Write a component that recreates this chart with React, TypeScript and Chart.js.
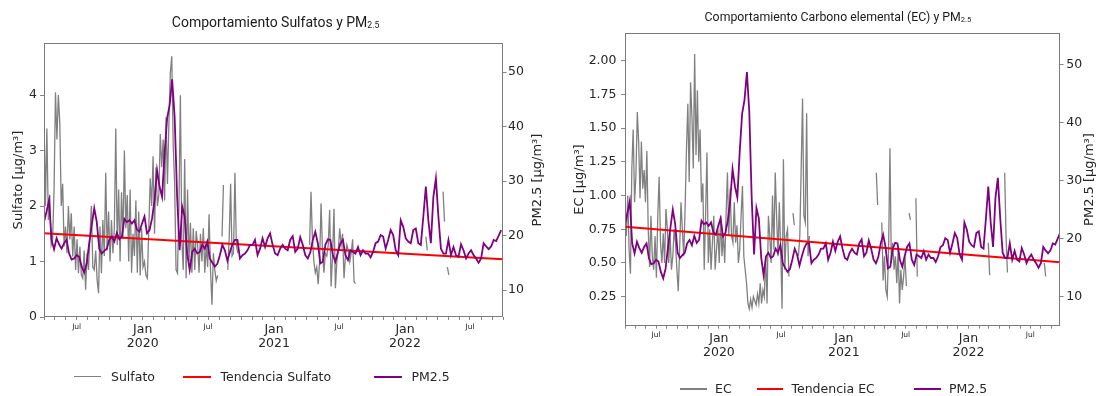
import React, { useEffect, useRef } from 'react';
import { Chart, registerables } from 'chart.js';

Chart.register(...registerables);

const _ = null;

// ---------- time axis (days since 2019-04-01) ----------
const START_UTC = Date.UTC(2019, 3, 1);
const MS_PER_DAY = 86400000;
const PM25_STEP_DAYS = 7;
const GRAY_STEP_DAYS = 4;
const LEFT_X_MAX_DAY = 1279;
const RIGHT_X_MAX_DAY = 1274;
const TICK_YEARS = [2019, 2020, 2021, 2022];
const LABELED_MONTHS = { 0: 'Jan', 6: 'Jul' };

// ---------- series values ----------
// PM2.5 weekly (µg/m³), shared by both panels
const PM25 = [
  22.5, 24.4, 26.5, 19.2, 17.5, 19.5, 18.4, 17.6, 18.6, 19.2,
  16.7, 15.6, 15.8, 16.4, 16.1, 14.3, 13.2, 14.9, 18.6, 21.9,
  25.0, 22.5, 17.6, 16.7, 17.2, 17.6, 19.2, 19.8, 18.9, 20.5,
  19.3, 19.8, 23.1, 22.5, 22.8, 22.2, 22.8, 21.1, 20.7, 22.2,
  23.5, 20.4, 21.0, 23.1, 26.5, 32.0, 29.0, 27.1, 35.0, 41.5,
  43.9, 48.7, 41.8, 27.1, 17.3, 25.3, 23.5, 16.7, 13.7, 17.0,
  17.6, 16.7, 17.0, 18.3, 17.6, 18.9, 15.8, 15.0, 14.3, 14.8,
  16.4, 18.3, 17.3, 15.4, 17.0, 18.4, 19.2, 19.2, 15.8, 16.4,
  16.7, 17.3, 18.3, 18.3, 19.2, 16.4, 17.6, 19.5, 17.9, 19.5,
  20.4, 18.3, 16.7, 16.4, 17.6, 18.3, 17.6, 17.3, 19.2, 19.9,
  17.0, 17.6, 19.7, 18.3, 16.4, 15.8, 16.9, 19.2, 20.7, 18.6,
  14.9, 15.2, 18.3, 19.3, 19.2, 16.4, 15.2, 17.0, 18.6, 19.2,
  16.4, 15.5, 17.3, 17.0, 16.7, 17.9, 16.4, 17.3, 16.7, 16.7,
  16.0, 17.0, 18.6, 18.9, 20.1, 19.8, 17.6, 19.2, 21.0, 20.1,
  17.3, 16.4, 22.8, 21.6, 19.5, 18.9, 18.6, 21.0, 21.3, 18.6,
  18.3, 23.5, 29.0, 22.8, 18.6, 27.1, 30.5, 23.5, 17.6, 16.7,
  16.7, 19.2, 16.4, 17.9, 16.4, 16.1, 18.4, 17.3, 15.8, 16.7,
  17.3, 16.4, 15.8, 15.0, 15.8, 18.6, 18.0, 17.5, 18.0, 19.2,
  19.0, 20.0, 21.0,
];

// Sulfato every 4 days (µg/m³), null = no data
const SULFATO = [
  3.6, 2.0, 3.4, 1.75, 2.2, 1.3, 1.4, 2.3, 4.05, 3.2,
  4.0, 3.5, 2.0, 2.4, 1.27, 1.63, 1.15, 2.0, 1.4, 1.87,
  1.09, 1.63, 0.85, 1.4, 0.79, 1.27, 0.76, 0.7, 1.2, 0.49,
  1.15, 0.85, 1.45, 2.0, 0.9, 0.85, 1.2, 0.67, 0.43, 1.63,
  0.79, 1.75, 1.1, 2.6, 1.2, 1.9, 1.0, 1.75, 1.15, 1.6,
  3.4, 1.3, 2.3, 1.0, 2.25, 1.4, 3.0, 1.6, 2.2, 1.0,
  2.3, 0.8, 1.5, 1.1, 2.1, 0.8, 1.9, 0.75, 1.6, 0.9,
  1.0, 0.75, 0.7, 1.6, 2.5, 2.0, 2.9, 1.5, 2.7, 2.0,
  2.2, 3.3, 2.7, 3.2, 2.1, 3.6, 2.4, 3.5, 4.4, 4.7,
  3.1, 2.4, 0.85, 0.79, 2.0, 4.0, 1.4, 0.85, 2.85, 0.7,
  2.3, 1.0, 1.7, 0.8, 1.6, 0.85, 1.55, 1.3, 0.8, 1.5,
  1.0, 1.6, 0.8, 1.3, 0.9, 1.85, 0.85, 0.22, 1.15, 0.85,
  0.65, 0.75, _, _, 1.45, 2.38, _, _, 0.85, 1.4,
  2.4, 1.1, 1.15, 2.6, 1.3, 1.15, _, _, _, _,
  _, _, _, _, _, _, _, _, _, _,
  _, _, _, _, _, _, _, _, _, _,
  _, _, _, _, _, _, _, _, _, _,
  _, _, _, _, _, _, _, _, _, _,
  _, _, _, _, _, 1.3, 2.26, 1.4, 1.0, 0.8,
  0.9, 0.59, 1.0, 2.05, 1.2, 0.8, 1.15, 1.1, 1.3, 1.93,
  0.55, 1.1, 1.95, 0.52, 1.0, 1.2, 1.6, 1.3, 1.5, 0.7,
  1.1, 1.3, 1.2, 1.0, 1.15, 1.4, 0.64, 0.6, _, _,
  _, _, _, _, _, _, _, _, _, _,
  _, _, _, _, _, _, _, _, _, _,
  _, _, _, _, _, _, _, _, _, _,
  _, _, _, _, _, _, _, _, _, _,
  _, _, _, _, _, _, 1.45, 1.2, _, _,
  _, _, _, _, _, _, _, _, 2.26, 1.72,
  _, 0.9, 0.76,
];

// EC every 4 days (µg/m³), null = no data
const EC = [
  0.95, 0.7, 1.0, 0.6, 0.42, 1.2, 1.49, 0.95, 1.15, 1.62,
  1.4, 0.98, 1.4, 1.05, 1.19, 0.95, 1.33, 0.75, 0.47, 0.85,
  0.55, 0.45, 0.7, 0.39, 0.85, 1.14, 0.65, 0.5, 0.72, 0.5,
  0.9, 0.75, 0.5, 0.72, 0.45, 0.55, 0.75, 0.65, 0.45, 0.29,
  0.6, 0.95, 0.75, 0.55, 0.9, 1.34, 1.68, 1.1, 1.84, 1.59,
  1.2, 2.05, 1.3, 1.78, 1.25, 1.49, 0.95, 1.09, 0.45, 0.85,
  1.32, 0.5, 0.75, 0.45, 0.65, 0.85, 0.45, 0.6, 0.75, 0.5,
  0.85, 0.55, 0.72, 0.5, 0.85, 1.17, 0.7, 1.05, 0.7, 0.65,
  0.95, 0.65, 0.78, 0.5, 0.6, 0.85, 1.07, 0.55, 0.45, 0.35,
  0.2, 0.16, 0.23, 0.17, 0.25, 0.22, 0.19, 0.27, 0.2, 0.35,
  0.2, 0.3, 0.25, 0.55, 0.2, 0.85, 0.7, 0.5, 1.0, 0.6,
  1.17, 0.85, 0.55, 0.95, 0.6, 0.16, 1.27, 0.45, 0.7, 0.75,
  0.4, _, _, 0.87, 0.78, _, _, 0.55, 0.7, 1.2,
  1.72, 0.85, 0.8, 1.61, 0.55, 0.7, _, _, _, _,
  _, _, _, _, _, _, _, _, _, _,
  _, _, _, _, _, _, _, _, _, _,
  _, _, _, _, _, _, _, _, _, _,
  _, _, _, _, _, _, _, _, _, _,
  _, _, _, _, 1.17, 0.93, _, _, 0.8, 0.37,
  0.55, 0.3, 0.25, 0.6, 1.35, 0.5, 0.65, 0.45, 0.55, 0.35,
  0.6, 0.2, 0.45, 0.3, 0.4, 0.55, 0.33, _, 0.87, 0.82,
  _, _, _, 0.98, 0.4, _, _, _, _, _,
  _, _, _, _, _, _, _, _, _, _,
  _, _, _, _, _, _, _, _, _, _,
  _, _, _, _, _, _, _, _, _, _,
  _, _, _, _, _, _, _, _, _, _,
  _, _, _, _, _, _, 0.65, 0.41, _, _,
  _, _, _, _, _, _, _, _, 1.17, 0.7,
  0.43, _, _, _, _, _, _, _, _, _,
  _, _, _, _, _, _, _, _, _, _,
  _, _, _, _, _, _, _, 0.5, 0.4,
];

// linear trend lines (start, end)
const SULFATO_TREND = [1.51, 1.04];
const EC_TREND = [0.768, 0.506];

// ---------- tick values ----------
const SULFATO_TICKS = [0, 1, 2, 3, 4];
const EC_TICKS = [0.25, 0.5, 0.75, 1.0, 1.25, 1.5, 1.75, 2.0];
const PM25_TICKS = [10, 20, 30, 40, 50];

const FONT = "'DejaVu Sans', sans-serif";
const TITLE_FONT = "Roboto, 'Noto Sans', sans-serif";
const TEXT_COLOR = '#262626';
const GRAY = '#808080';
const RED = '#ff0000';
const PURPLE = '#800080';

function monthTicks(maxDay) {
  const out = [];
  for (const y of TICK_YEARS) {
    for (let m = 0; m < 12; m++) {
      const d = (Date.UTC(y, m, 1) - START_UTC) / MS_PER_DAY;
      if (d >= 0 && d <= maxDay) out.push({ day: d, month: m, year: y });
    }
  }
  return out;
}

const framePlugin = {
  id: 'frame',
  afterDatasetsDraw(chart) {
    const { ctx, chartArea } = chart;
    const l = Math.round(chartArea.left) + 0.5;
    const t = Math.round(chartArea.top) + 0.5;
    const r = Math.round(chartArea.right) - 0.5;
    const b = Math.round(chartArea.bottom) - 0.5;
    ctx.save();
    ctx.strokeStyle = '#7a7a7a';
    ctx.lineWidth = 1;
    ctx.strokeRect(l, t, r - l, b - t);
    ctx.restore();
  },
};

// right-axis title reading bottom-to-top, like the left one
const rightTitlePlugin = {
  id: 'rightTitle',
  afterDraw(chart, args, opts) {
    if (!opts || !opts.text) return;
    const { ctx } = chart;
    ctx.save();
    ctx.font = `13px ${FONT}`;
    ctx.fillStyle = TEXT_COLOR;
    ctx.textAlign = 'center';
    ctx.textBaseline = 'middle';
    ctx.translate(opts.x, opts.y);
    ctx.rotate(-Math.PI / 2);
    ctx.fillText(opts.text, 0, 0);
    ctx.restore();
  },
};

function buildChart(canvas, p) {
  const months = monthTicks(p.xMax);
  const grayData = p.gray.map((v, i) => ({ x: i * GRAY_STEP_DAYS, y: v }));
  const pmData = PM25.map((v, i) => ({ x: i * PM25_STEP_DAYS, y: v }));
  const trendData = [
    { x: 0, y: p.trend[0] },
    { x: p.xMax, y: p.trend[1] },
  ];
  return new Chart(canvas, {
    type: 'line',
    data: {
      datasets: [
        { label: p.grayLabel, data: grayData, borderColor: GRAY, borderWidth: 1.3, pointRadius: 0, spanGaps: false, yAxisID: 'y', order: 3 },
        { label: p.trendLabel, data: trendData, borderColor: RED, borderWidth: 2, pointRadius: 0, yAxisID: 'y', order: 2 },
        { label: 'PM2.5', data: pmData, borderColor: PURPLE, borderWidth: 1.8, pointRadius: 0, yAxisID: 'y1', order: 1 },
      ],
    },
    options: {
      animation: false,
      responsive: false,
      devicePixelRatio: 1,
      events: [],
      layout: { padding: { top: p.padTop, left: 0, right: 0, bottom: 0 } },
      plugins: {
        legend: { display: false },
        title: { display: false },
        tooltip: { enabled: false },
        rightTitle: { text: 'PM2.5 [µg/m³]', x: p.y1TitleX, y: p.y1TitleY },
      },
      scales: {
        x: {
          type: 'linear',
          position: 'bottom',
          min: 0,
          max: p.xMax,
          afterBuildTicks: (s) => { s.ticks = months.map((t) => ({ value: t.day })); },
          afterFit: (s) => { s.height = p.xHeight; },
          ticks: {
            autoSkip: false,
            maxRotation: 0,
            minRotation: 0,
            padding: 3,
            color: TEXT_COLOR,
            callback: (v, i) => {
              const t = months[i];
              if (!t) return '';
              if (t.month === 0) return [LABELED_MONTHS[0], String(t.year)];
              if (t.month === 6) return LABELED_MONTHS[6];
              return '';
            },
            font: (ctx) => {
              const t = months[ctx.index];
              return t && t.month === 6
                ? { family: FONT, size: 7.5, lineHeight: 1 }
                : { family: FONT, size: 12.5, lineHeight: 1.12 };
            },
          },
          grid: { display: true, drawOnChartArea: false, drawTicks: true, tickLength: 3, color: '#666', lineWidth: 0.8 },
          border: { display: false },
        },
        y: {
          type: 'linear',
          position: 'left',
          min: p.yMin,
          max: p.yMax,
          afterBuildTicks: (s) => { s.ticks = p.yTicks.map((v) => ({ value: v })); },
          afterFit: (s) => { s.width = p.yWidth; },
          ticks: {
            color: TEXT_COLOR,
            padding: p.yTickPad,
            font: { family: FONT, size: 12.5 },
            callback: (v) => Number(v).toFixed(p.yDecimals),
          },
          grid: { display: true, drawOnChartArea: false, drawTicks: true, tickLength: 4, color: '#666', lineWidth: 0.8 },
          border: { display: false },
          title: {
            display: true,
            text: p.yTitle,
            color: TEXT_COLOR,
            font: { family: FONT, size: 13 },
            padding: { top: p.yTitlePad, bottom: 0 },
          },
        },
        y1: {
          type: 'linear',
          position: 'right',
          min: 5.05,
          max: 55.35,
          afterBuildTicks: (s) => { s.ticks = PM25_TICKS.map((v) => ({ value: v })); },
          afterFit: (s) => { s.width = p.y1Width; },
          ticks: {
            color: TEXT_COLOR,
            padding: p.y1TickPad,
            font: { family: FONT, size: 12.5 },
            callback: (v) => String(v),
          },
          grid: { display: true, drawOnChartArea: false, drawTicks: true, tickLength: 3.5, color: '#666', lineWidth: 0.8 },
          border: { display: false },
        },
      },
    },
    plugins: [framePlugin, rightTitlePlugin],
  });
}

const LEFT_PANEL = {
  xMax: LEFT_X_MAX_DAY, gray: SULFATO, grayLabel: 'Sulfato', trend: SULFATO_TREND, trendLabel: 'Tendencia Sulfato',
  yMin: 0, yMax: 4.94, yTicks: SULFATO_TICKS, yDecimals: 0, yTitle: 'Sulfato [µg/m³]', yTitlePad: 11,
  yWidth: 44, yTickPad: 3, y1Width: 47, y1TickPad: 1.5, xHeight: 79, padTop: 43,
  y1TitleX: 538, y1TitleY: 180,
};

const RIGHT_PANEL = {
  xMax: RIGHT_X_MAX_DAY, gray: EC, grayLabel: 'EC', trend: EC_TREND, trendLabel: 'Tendencia EC',
  yMin: 0.035, yMax: 2.203, yTicks: EC_TICKS, yDecimals: 2, yTitle: 'EC [µg/m³]', yTitlePad: 22,
  yWidth: 75, yTickPad: 4.5, y1Width: 41, y1TickPad: 2.8, xHeight: 70.3, padTop: 33.3,
  y1TitleX: 540, y1TitleY: 179.5,
};

function LegendItem({ x, y, color, lw, len, gap, label }) {
  return (
    <>
      <div style={{ position: 'absolute', left: x, top: y - lw / 2, width: len, height: lw, background: color }} />
      <div style={{ position: 'absolute', left: x + len + gap, top: y - 7, lineHeight: '14px', fontSize: 12.5, fontFamily: FONT, color: TEXT_COLOR, whiteSpace: 'nowrap' }}>{label}</div>
    </>
  );
}

function Title({ cx, cy, size, main }) {
  return (
    <div style={{ position: 'absolute', left: cx, top: cy, transform: 'translate(-50%, -50%)', fontFamily: TITLE_FONT, fontSize: size, lineHeight: 1, color: '#1a1a1a', whiteSpace: 'nowrap' }}>
      {main}PM<span style={{ fontSize: '0.62em', position: 'relative', top: '0.12em' }}>2.5</span>
    </div>
  );
}

export default function App() {
  const leftRef = useRef(null);
  const rightRef = useRef(null);

  useEffect(() => {
    document.body.style.margin = '0';
    const a = buildChart(leftRef.current, LEFT_PANEL);
    const b = buildChart(rightRef.current, RIGHT_PANEL);
    return () => { a.destroy(); b.destroy(); };
  }, []);

  return (
    <div style={{ position: 'relative', width: 1101, height: 396, background: '#fff', overflow: 'hidden' }}>
      <canvas ref={leftRef} width={550} height={396} style={{ position: 'absolute', left: 0, top: 0, width: 550, height: 396 }} />
      <canvas ref={rightRef} width={551} height={396} style={{ position: 'absolute', left: 550, top: 0, width: 551, height: 396 }} />

      <Title cx={275.6} cy={21.7} size={14} main={'Comportamiento Sulfatos y '} />
      <Title cx={838} cy={16.7} size={12.3} main={'Comportamiento Carbono elemental (EC) y '} />

      <LegendItem x={73.5} y={376.5} color={GRAY} lw={1.5} len={27.5} gap={10} label="Sulfato" />
      <LegendItem x={183} y={376.5} color={RED} lw={2} len={27.5} gap={10} label="Tendencia Sulfato" />
      <LegendItem x={374} y={376.5} color={PURPLE} lw={2} len={27.5} gap={10} label="PM2.5" />

      <LegendItem x={680} y={389} color={GRAY} lw={1.5} len={26.5} gap={8.5} label="EC" />
      <LegendItem x={756.5} y={389} color={RED} lw={2} len={26.5} gap={8.5} label="Tendencia EC" />
      <LegendItem x={914} y={389} color={PURPLE} lw={2} len={26.5} gap={8.5} label="PM2.5" />
    </div>
  );
}
